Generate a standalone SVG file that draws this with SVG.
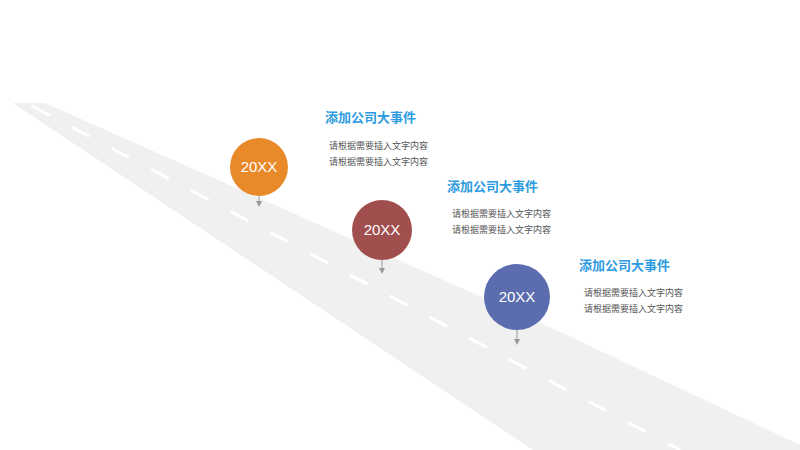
<svg xmlns="http://www.w3.org/2000/svg" width="800" height="450" viewBox="0 0 800 450">
<style>
.t{font-family:"Liberation Sans","Noto Sans CJK SC",sans-serif;font-weight:bold;font-size:13px;fill:#2D9BE0}
.d{font-family:"Liberation Sans","Noto Sans CJK SC",sans-serif;font-size:9px;fill:#555}
.y{font-family:"Liberation Sans",sans-serif;font-size:15px;fill:#fff;text-anchor:middle}
.s{stroke:#999;stroke-width:1;marker-end:url(#a)}
</style>
<defs><marker id="a" markerWidth="6" markerHeight="6" refX="3" refY="3" orient="auto"><path d="M0,0L6,3L0,6z" fill="#999"/></marker></defs>
<path d="M13,103 L45,103 L556,330 L800,445 L800,450 L533,450 Z" fill="#f0f0f0"/>
<path d="M32,106 L680,450" stroke="#fff" stroke-width="3" stroke-dasharray="20 25"/>
<g id="connectors">
<line class="s" x1="259" y1="196" x2="259" y2="204"/>
<line class="s" x1="382" y1="260" x2="382" y2="271"/>
<line class="s" x1="517" y1="330" x2="517" y2="342"/>
</g>
<g id="n1"><circle cx="259" cy="167" r="29" fill="#E8892A"/><text class="y" x="259" y="172">20XX</text>
<text class="t" x="325" y="122">添加公司大事件</text><text class="d" x="329" y="149">请根据需要插入文字内容</text><text class="d" x="329" y="165">请根据需要插入文字内容</text></g>
<g id="n2"><circle cx="382" cy="230" r="30" fill="#A04E4E"/><text class="y" x="382" y="235">20XX</text>
<text class="t" x="447" y="191">添加公司大事件</text><text class="d" x="452" y="217">请根据需要插入文字内容</text><text class="d" x="452" y="233">请根据需要插入文字内容</text></g>
<g id="n3"><circle cx="517" cy="297" r="33" fill="#5B6DAE"/><text class="y" x="517" y="302">20XX</text>
<text class="t" x="579" y="270">添加公司大事件</text><text class="d" x="584" y="296">请根据需要插入文字内容</text><text class="d" x="584" y="312">请根据需要插入文字内容</text></g>
</svg>
